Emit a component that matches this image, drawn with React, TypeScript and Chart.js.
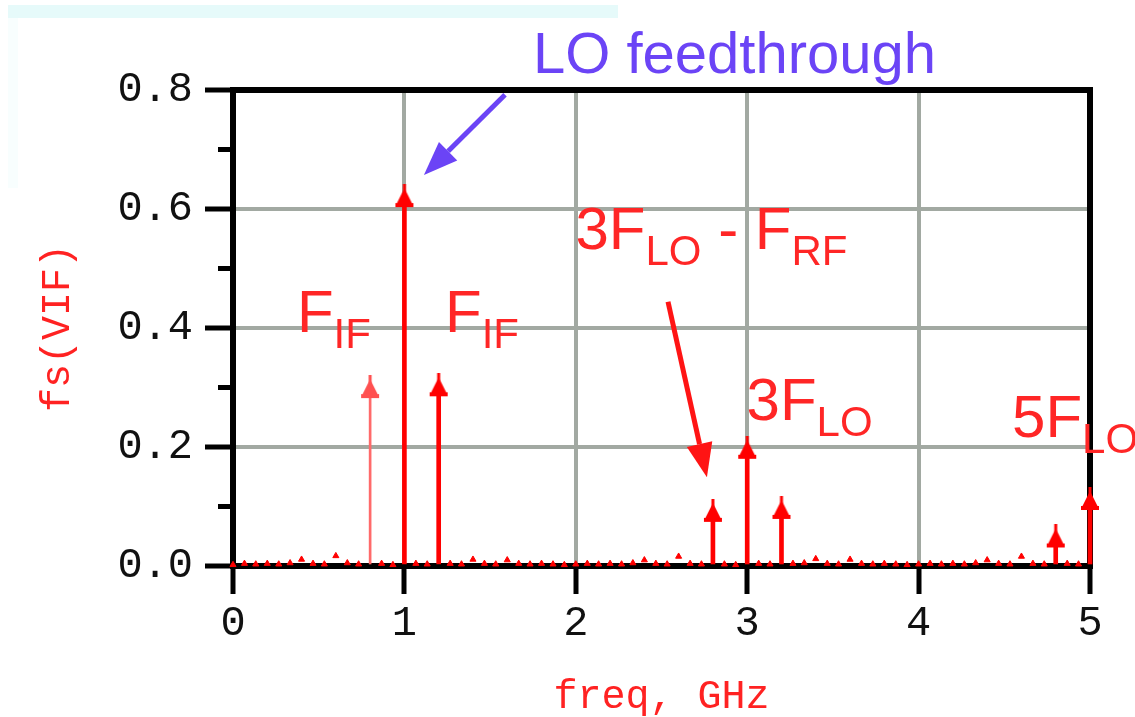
import React, { useEffect, useRef } from "react";
import { Chart, registerables } from "chart.js";

Chart.register(...registerables);

// ---------------- data ----------------
const toneFreqGHz = [1.0, 1.2, 2.8, 3.0, 3.2, 4.8, 5.0];
const toneAmp = [0.62, 0.302, 0.091, 0.197, 0.096, 0.048, 0.111];

const lowerIfFreqGHz = [0.8];
const lowerIfAmp = [0.299];

const floorFreqGHz = [
  0.0, 0.067, 0.133, 0.2, 0.267, 0.333, 0.4, 0.467, 0.533, 0.6, 0.667, 0.733,
  0.867, 0.933, 1.067, 1.133, 1.267, 1.333, 1.4, 1.467, 1.533, 1.6, 1.667,
  1.733, 1.8, 1.867, 1.933, 2.0, 2.067, 2.133, 2.2, 2.267, 2.333, 2.4, 2.467,
  2.533, 2.6, 2.667, 2.733, 2.867, 2.933, 3.067, 3.133, 3.267, 3.333, 3.4,
  3.467, 3.533, 3.6, 3.667, 3.733, 3.8, 3.867, 3.933, 4.0, 4.067, 4.133, 4.2,
  4.267, 4.333, 4.4, 4.467, 4.533, 4.6, 4.667, 4.733, 4.867, 4.933,
];
const floorAmp = [
  0.002, 0.004, 0.003, 0.004, 0.003, 0.005, 0.011, 0.004, 0.003, 0.017, 0.005,
  0.003, 0.004, 0.002, 0.004, 0.003, 0.004, 0.003, 0.011, 0.004, 0.003, 0.01,
  0.004, 0.003, 0.004, 0.003, 0.002, 0.003, 0.004, 0.003, 0.004, 0.003, 0.005,
  0.01, 0.004, 0.003, 0.016, 0.004, 0.003, 0.003, 0.002, 0.004, 0.003, 0.004,
  0.005, 0.012, 0.004, 0.003, 0.011, 0.004, 0.003, 0.004, 0.003, 0.002, 0.003,
  0.004, 0.003, 0.004, 0.003, 0.005, 0.01, 0.004, 0.003, 0.016, 0.004, 0.003,
  0.004, 0.003,
];

const xTickLabels = ["0", "1", "2", "3", "4", "5"];
const yTickLabels = ["0.0", "0.2", "0.4", "0.6", "0.8"];

const xTitle = "freq, GHz";
const yTitle = "fs(VIF)";

// annotation texts (anchored in data units: GHz / amplitude)
type Part = [string, boolean];
const textNotes: { parts: Part[]; x: number; y: number; color: string; size: number }[] = [
  { parts: [["LO feedthrough", false]], x: 1.75, y: 0.829, color: "#6b44f6", size: 58 },
  { parts: [["F", false], ["IF", true]], x: 0.373, y: 0.393, color: "#ff2626", size: 60 },
  { parts: [["F", false], ["IF", true]], x: 1.237, y: 0.393, color: "#ff2626", size: 60 },
  {
    parts: [["3F", false], ["LO", true], [" - F", false], ["RF", true]],
    x: 1.998, y: 0.532, color: "#ff2626", size: 60,
  },
  { parts: [["3F", false], ["LO", true]], x: 2.996, y: 0.245, color: "#ff2626", size: 60 },
  { parts: [["5F", false], ["LO", true]], x: 4.545, y: 0.216, color: "#ff2626", size: 60 },
];

const arrowNotes = [
  { from: [1.587, 0.792], to: [1.114, 0.657], color: "#6b44f6" },
  { from: [2.538, 0.444], to: [2.765, 0.149], color: "#ff1414" },
];

const RED = "#ff0000";
const GRID = "#a2a9a2";

function makeArrowHead(color: string) {
  const c = document.createElement("canvas");
  c.width = 20;
  c.height = 26;
  const g = c.getContext("2d")!;
  g.fillStyle = color;
  g.fillRect(8.5, 0, 3, 10);
  g.beginPath();
  g.moveTo(10, 4);
  g.lineTo(18, 20);
  g.lineTo(2, 20);
  g.closePath();
  g.fill();
  g.fillRect(1, 19, 18, 4);
  return c;
}

const backgroundPlugin = {
  id: "bgPaper",
  beforeDraw(chart: any) {
    const { ctx, width, height } = chart;
    ctx.save();
    ctx.fillStyle = "#ffffff";
    ctx.fillRect(0, 0, width, height);
    ctx.fillStyle = "#e6fafa";
    ctx.fillRect(8, 5, 610, 13);
    ctx.fillStyle = "#f8fefe";
    ctx.fillRect(8, 18, 10, 170);
    ctx.restore();
  },
};

const framePlugin = {
  id: "frame",
  beforeDatasetsDraw(chart: any) {
    const { ctx, chartArea } = chart;
    const { left, right, top, bottom } = chartArea;
    ctx.save();
    ctx.strokeStyle = "#000";
    ctx.lineWidth = 6;
    ctx.strokeRect(left, top, right - left, bottom - top);
    // minor ticks on y axis
    const ys = chart.scales.y;
    const t = ys.ticks;
    ctx.lineWidth = 5;
    ctx.beginPath();
    for (let i = 0; i < t.length - 1; i++) {
      const mid = (t[i].value + t[i + 1].value) / 2;
      const py = ys.getPixelForValue(mid);
      ctx.moveTo(left - 15, py);
      ctx.lineTo(left, py);
    }
    ctx.stroke();
    ctx.restore();
  },
};

const notesPlugin = {
  id: "notes",
  afterDatasetsDraw(chart: any) {
    const { ctx } = chart;
    const xs = chart.scales.x;
    const ys = chart.scales.y;
    ctx.save();
    for (const a of arrowNotes) {
      const x1 = xs.getPixelForValue(a.from[0]);
      const y1 = ys.getPixelForValue(a.from[1]);
      const x2 = xs.getPixelForValue(a.to[0]);
      const y2 = ys.getPixelForValue(a.to[1]);
      const ang = Math.atan2(y2 - y1, x2 - x1);
      const L = 34;
      const W = 13;
      const bx = x2 - L * Math.cos(ang);
      const by = y2 - L * Math.sin(ang);
      ctx.strokeStyle = a.color;
      ctx.lineWidth = 5;
      ctx.beginPath();
      ctx.moveTo(x1, y1);
      ctx.lineTo(bx, by);
      ctx.stroke();
      ctx.fillStyle = a.color;
      ctx.beginPath();
      ctx.moveTo(x2, y2);
      ctx.lineTo(bx + W * Math.sin(ang), by - W * Math.cos(ang));
      ctx.lineTo(bx - W * Math.sin(ang), by + W * Math.cos(ang));
      ctx.closePath();
      ctx.fill();
    }
    ctx.textAlign = "left";
    ctx.textBaseline = "alphabetic";
    for (const n of textNotes) {
      let px = xs.getPixelForValue(n.x);
      const py = ys.getPixelForValue(n.y);
      for (const [s, sub] of n.parts) {
        const size = sub ? Math.round(n.size * 0.7) : n.size;
        ctx.font = `${size}px "Liberation Sans", Arial, sans-serif`;
        ctx.fillStyle = n.color;
        ctx.fillText(s, px, py + (sub ? 16 : 0));
        px += ctx.measureText(s).width;
      }
    }
    ctx.restore();
  },
};

export default function App() {
  const canvasRef = useRef<HTMLCanvasElement | null>(null);

  useEffect(() => {
    const canvas = canvasRef.current;
    if (!canvas) return;
    const head = makeArrowHead(RED);
    const headLight = makeArrowHead("#ff5050");

    const monoTick = { family: '"Liberation Mono", "DejaVu Sans Mono", monospace', size: 42 };
    const monoTitle = { family: '"Liberation Mono", "DejaVu Sans Mono", monospace', size: 40 };

    const chart = new Chart(canvas, {
      type: "scatter",
      data: {
        datasets: [
          {
            type: "scatter",
            label: "markers",
            data: [
              ...lowerIfFreqGHz.map((f, i) => ({ x: f, y: lowerIfAmp[i] })),
              ...toneFreqGHz.map((f, i) => ({ x: f, y: toneAmp[i] })),
            ],
            pointStyle: [headLight, ...toneFreqGHz.map(() => head)] as any,
            pointRadius: 10,
            showLine: false,
            clip: false,
          } as any,
          {
            type: "scatter",
            label: "floor",
            data: floorFreqGHz.map((f, i) => ({ x: f, y: floorAmp[i] })),
            pointStyle: "triangle",
            pointRadius: 3.5,
            backgroundColor: RED,
            borderColor: RED,
            borderWidth: 1,
            showLine: false,
            clip: false,
          } as any,
          {
            type: "bar",
            label: "tones",
            data: toneFreqGHz.map((f, i) => ({ x: f, y: toneAmp[i] })),
            backgroundColor: RED,
            borderWidth: 0,
            barThickness: 4,
            grouped: false,
            clip: false,
          } as any,
          {
            type: "bar",
            label: "lower IF",
            data: lowerIfFreqGHz.map((f, i) => ({ x: f, y: lowerIfAmp[i] })),
            backgroundColor: "#ff6a6a",
            borderWidth: 0,
            barThickness: 2,
            grouped: false,
            clip: false,
          } as any,
        ],
      },
      options: {
        responsive: false,
        animation: false,
        layout: { padding: { left: 0, top: 90, right: 45, bottom: 0 } },
        plugins: {
          legend: { display: false },
          tooltip: { enabled: false },
        },
        scales: {
          x: {
            type: "linear",
            min: 0,
            max: 5,
            offset: false,
            afterFit: (s: any) => {
              s.height = 151;
            },
            grid: {
              color: GRID,
              lineWidth: 4,
              tickColor: "#000",
              tickWidth: 5,
              tickLength: 28,
              offset: false,
            },
            border: { display: false },
            ticks: {
              stepSize: 1,
              color: "#111",
              font: { ...monoTick, lineHeight: 1.2 },
              padding: 5,
              maxRotation: 0,
              callback: (_v: any, i: number) => xTickLabels[i],
            },
            title: {
              display: true,
              text: xTitle,
              color: "#ff2222",
              font: { ...monoTitle, lineHeight: 1 },
              padding: { top: 0, bottom: 0 },
            },
          },
          y: {
            type: "linear",
            min: 0,
            max: 0.8,
            afterFit: (s: any) => {
              s.width = 233;
            },
            grid: {
              color: GRID,
              lineWidth: 4,
              tickColor: "#000",
              tickWidth: 5,
              tickLength: 28,
            },
            border: { display: false },
            ticks: {
              stepSize: 0.2,
              color: "#111",
              font: { ...monoTick, lineHeight: 1.2 },
              padding: 12,
              callback: (_v: any, i: number) => yTickLabels[i],
            },
            title: {
              display: true,
              text: yTitle,
              color: "#ff2222",
              font: { ...monoTitle, lineHeight: 1.2 },
              padding: { top: 34, bottom: 0 },
            },
          },
        },
      },
      plugins: [backgroundPlugin, framePlugin, notesPlugin],
    });

    return () => {
      chart.destroy();
    };
  }, []);

  return (
    <div
      style={{
        position: "fixed",
        left: 0,
        top: 0,
        width: 1135,
        height: 717,
        background: "#fff",
      }}
    >
      <canvas ref={canvasRef} width={1135} height={717} style={{ display: "block" }} />
    </div>
  );
}
